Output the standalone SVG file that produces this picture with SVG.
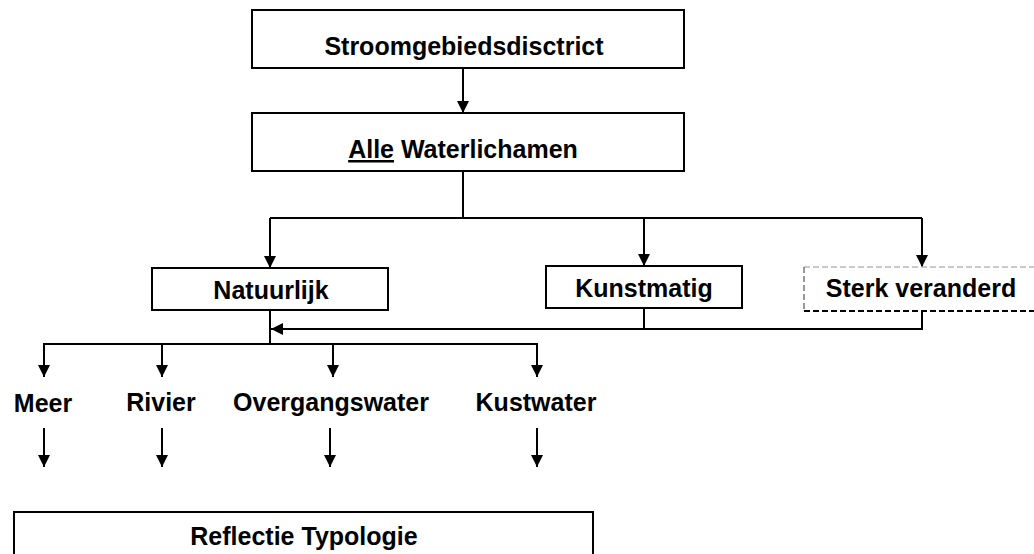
<svg xmlns="http://www.w3.org/2000/svg" width="1034" height="554" viewBox="0 0 1034 554">
  <style>
    .box { fill: #fff; stroke: #000; stroke-width: 2; }
    .lbl { font-family: "Liberation Sans", Arial, sans-serif; font-weight: bold; font-size: 25px; fill: #000; text-anchor: middle; }
    .wire { fill: none; stroke: #000; stroke-width: 2; }
    .arrow { fill: none; stroke: #000; stroke-width: 2; marker-end: url(#head); }
  </style>
  <defs>
    <marker id="head" markerUnits="userSpaceOnUse" markerWidth="12" markerHeight="12" refX="12" refY="6" orient="auto">
      <path d="M0,0 L12,6 L0,12 z" fill="#000"/>
    </marker>
  </defs>
  <rect width="1034" height="554" fill="#fff"/>

  <!-- connectors -->
  <g id="connectors">
    <line class="arrow" x1="463" y1="68" x2="463" y2="113"/>
    <polyline class="wire" points="463,171 463,218"/>
    <line class="wire" x1="270" y1="218" x2="922" y2="218"/>
    <line class="arrow" x1="270" y1="218" x2="270" y2="268"/>
    <line class="arrow" x1="644" y1="218" x2="644" y2="266"/>
    <line class="arrow" x1="922" y1="218" x2="922" y2="267"/>
    <!-- Kunstmatig and Sterk veranderd feed back into Natuurlijk -->
    <polyline class="wire" points="644,308 644,329"/>
    <polyline class="arrow" points="922,311 922,329 271,329"/>
    <!-- Natuurlijk branches to water types -->
    <line class="wire" x1="270" y1="310" x2="270" y2="344"/>
    <line class="wire" x1="43" y1="344" x2="538" y2="344"/>
    <line class="arrow" x1="44" y1="344" x2="44" y2="377"/>
    <line class="arrow" x1="162" y1="344" x2="162" y2="377"/>
    <line class="arrow" x1="333" y1="344" x2="333" y2="377"/>
    <line class="arrow" x1="537" y1="344" x2="537" y2="377"/>
    <!-- water types to typology -->
    <line class="arrow" x1="44" y1="428" x2="44" y2="467"/>
    <line class="arrow" x1="162" y1="428" x2="162" y2="467"/>
    <line class="arrow" x1="330" y1="428" x2="330" y2="467"/>
    <line class="arrow" x1="537" y1="428" x2="537" y2="467"/>
  </g>

  <g id="stroomgebiedsdistrict">
    <rect class="box" x="252" y="10" width="432" height="58"/>
    <text class="lbl" x="464" y="55">Stroomgebiedsdisctrict</text>
  </g>

  <g id="alle-waterlichamen">
    <rect class="box" x="252" y="113" width="432" height="58"/>
    <text class="lbl" x="463" y="158"><tspan text-decoration="underline">Alle</tspan> Waterlichamen</text>
  </g>

  <g id="natuurlijk">
    <rect class="box" x="152" y="268" width="236" height="42"/>
    <text class="lbl" x="271" y="299">Natuurlijk</text>
  </g>

  <g id="kunstmatig">
    <rect class="box" x="546" y="266" width="196" height="42"/>
    <text class="lbl" x="644" y="297">Kunstmatig</text>
  </g>

  <g id="sterk-veranderd">
    <line x1="804" y1="267" x2="1034" y2="267" stroke="#b8b8b8" stroke-width="1.5" stroke-dasharray="6,3"/>
    <line x1="804" y1="267" x2="804" y2="311" stroke="#333" stroke-width="1" stroke-dasharray="6,3"/>
    <line x1="804" y1="311" x2="1034" y2="311" stroke="#000" stroke-width="2" stroke-dasharray="6,3"/>
    <text class="lbl" x="921" y="297">Sterk veranderd</text>
  </g>

  <g id="meer"><text class="lbl" x="43" y="412">Meer</text></g>
  <g id="rivier"><text class="lbl" x="161" y="411">Rivier</text></g>
  <g id="overgangswater"><text class="lbl" x="331" y="411">Overgangswater</text></g>
  <g id="kustwater"><text class="lbl" x="536" y="411">Kustwater</text></g>

  <g id="reflectie-typologie">
    <rect class="box" x="14" y="512" width="579" height="60"/>
    <text class="lbl" x="304" y="545">Reflectie Typologie</text>
  </g>
</svg>
